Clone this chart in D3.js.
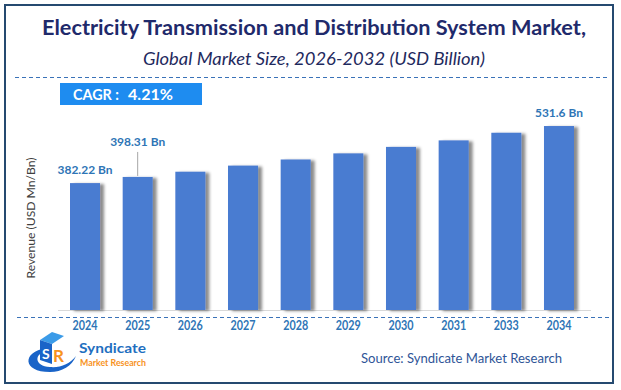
<!DOCTYPE html>
<html>
<head>
<meta charset="utf-8">
<script src="https://cdn.jsdelivr.net/npm/d3@7"></script>
<style>
  body { margin: 0; background: #fff; }
  svg text { font-family: Lato, "Open Sans", sans-serif; }
</style>
</head>
<body>
<div id="chart"></div>
<script>
// chart data
var years = ["2024", "2025", "2026", "2027", "2028", "2029", "2030", "2031", "2033", "2034"];
var revenue = [382.22, 398.31, 412, 428, 444, 460, 477, 494, 514, 531.6];
var labelled = { "2024": "382.22 Bn", "2025": "398.31 Bn", "2034": "531.6 Bn" };
var cagrText = "4.21%";

var W = 621, H = 390;

var svg = d3.select("#chart").append("svg")
    .attr("width", W)
    .attr("height", H);

// shadow for the bars
var defs = svg.append("defs");
var f = defs.append("filter").attr("id", "shadow")
    .attr("x", "-20%").attr("y", "-10%").attr("width", "160%").attr("height", "130%");
f.append("feDropShadow")
    .attr("dx", 4).attr("dy", 1)
    .attr("stdDeviation", 1.8)
    .attr("flood-color", "#000")
    .attr("flood-opacity", 0.45);

// frame
svg.append("rect")
    .attr("x", 5).attr("y", 5)
    .attr("width", 608).attr("height", 378)
    .attr("fill", "#fff")
    .attr("stroke", "#254a70")
    .attr("stroke-width", 2);

// titles
svg.append("text")
    .attr("x", 314).attr("y", 35)
    .attr("text-anchor", "middle")
    .attr("textLength", 544).attr("lengthAdjust", "spacingAndGlyphs")
    .style("font-size", "20.5px").style("font-weight", "bold")
    .style("fill", "#1f2a6b")
    .text("Electricity Transmission and Distribution System Market,");

svg.append("text")
    .attr("x", 314).attr("y", 65)
    .attr("text-anchor", "middle")
    .attr("textLength", 342).attr("lengthAdjust", "spacingAndGlyphs")
    .style("font-size", "16.5px").style("font-style", "italic")
    .style("fill", "#1f2a5e")
    .text("Global Market Size, 2026-2032 (USD Billion)");

// dashed separators
function dashed(x1, x2, y) {
    svg.append("line")
        .attr("x1", x1).attr("x2", x2)
        .attr("y1", y).attr("y2", y)
        .attr("stroke", "#3a72b8")
        .attr("stroke-width", 1)
        .attr("stroke-dasharray", "4,3");
}
dashed(15, 607, 77.5);
dashed(17, 609, 317.5);

// CAGR box
svg.append("rect")
    .attr("x", 60).attr("y", 83)
    .attr("width", 142).attr("height", 22)
    .attr("fill", "#1e8cf0");
svg.append("text")
    .attr("x", 73).attr("y", 100)
    .attr("textLength", 46).attr("lengthAdjust", "spacingAndGlyphs")
    .style("font-size", "15px").style("font-weight", "bold").style("fill", "#fff")
    .text("CAGR :");
svg.append("text")
    .attr("x", 128).attr("y", 100)
    .attr("textLength", 45).attr("lengthAdjust", "spacingAndGlyphs")
    .style("font-size", "15px").style("font-weight", "bold").style("fill", "#fff")
    .text(cagrText);

// scales
var x = d3.scaleBand()
    .domain(years)
    .range([58, 586])
    .paddingInner(0.43)
    .paddingOuter(0.228);

var y = d3.scaleLinear()
    .domain([50, 550])
    .range([310, 119]);

// baseline
svg.append("line")
    .attr("x1", 58).attr("x2", 591)
    .attr("y1", 310.5).attr("y2", 310.5)
    .attr("stroke", "#d9d9d9")
    .attr("stroke-width", 1);

// bars
svg.append("g").selectAll("rect")
    .data(years)
    .enter().append("rect")
    .attr("x", function (d) { return x(d); })
    .attr("y", function (d, i) { return y(revenue[i]); })
    .attr("width", x.bandwidth())
    .attr("height", function (d, i) { return y(50) - y(revenue[i]); })
    .attr("fill", "#4a7bd1")
    .attr("filter", "url(#shadow)");

// value labels
years.forEach(function (d, i) {
    if (!labelled[d]) return;
    var cx = x(d) + x.bandwidth() / 2;
    var ty = y(revenue[i]) - 9;
    if (d === "2025") {
        ty = y(revenue[i]) - 31;
        svg.append("line")
            .attr("x1", cx).attr("x2", cx)
            .attr("y1", ty + 6).attr("y2", y(revenue[i]) - 1)
            .attr("stroke", "#a6a6a6").attr("stroke-width", 1);
    }
    svg.append("text")
        .attr("x", cx).attr("y", ty)
        .attr("text-anchor", "middle")
        .attr("textLength", d === "2034" ? 48 : 55).attr("lengthAdjust", "spacingAndGlyphs")
        .style("font-size", "12px").style("font-weight", "bold")
        .style("fill", "#2e75b6")
        .text(labelled[d]);
});

// x axis labels
var xAxis = svg.append("g")
    .attr("transform", "translate(0,330)")
    .call(d3.axisBottom(x).tickSize(0).tickPadding(0));
xAxis.select(".domain").remove();
xAxis.selectAll("text")
    .attr("dy", 0)
    .attr("textLength", 25).attr("lengthAdjust", "spacingAndGlyphs")
    .style("font-family", "Lato, sans-serif")
    .style("font-size", "13px").style("font-weight", "bold")
    .style("fill", "#2e75b6");

// y axis title
svg.append("text")
    .attr("transform", "translate(35,218) rotate(-90)")
    .attr("text-anchor", "middle")
    .attr("textLength", 121).attr("lengthAdjust", "spacingAndGlyphs")
    .style("font-size", "12px")
    .style("fill", "#404040")
    .text("Revenue (USD Mn/Bn)");

// logo
var logo = svg.append("g");
logo.append("path")
    .attr("d", "M46,348 C22,352 22,372 50,372 C62,372 72,366 76,356 C70,364 60,368 50,367 C34,366 34,354 46,351 Z")
    .attr("fill", "#1a64c8");
logo.append("path")
    .attr("d", "M40,340 L52,332 L64,336 L52,344 Z")
    .attr("fill", "#3b9be8");
logo.append("path")
    .attr("d", "M40,340 L52,344 L52,364 L40,360 Z")
    .attr("fill", "#1a64c8");
logo.append("text")
    .attr("x", 42).attr("y", 359)
    .style("font-size", "14px").style("font-weight", "bold").style("fill", "#fff")
    .text("S");
logo.append("text")
    .attr("x", 53).attr("y", 362)
    .style("font-size", "17px").style("font-weight", "bold").style("fill", "#f7931e")
    .text("R");
logo.append("text")
    .attr("x", 79).attr("y", 353)
    .attr("textLength", 67).attr("lengthAdjust", "spacingAndGlyphs")
    .style("font-size", "14px").style("font-weight", "bold").style("fill", "#1f6fc0")
    .text("Syndicate");
logo.append("text")
    .attr("x", 80).attr("y", 366)
    .attr("textLength", 66).attr("lengthAdjust", "spacingAndGlyphs")
    .style("font-size", "9px").style("font-weight", "bold").style("fill", "#f7931e")
    .text("Market Research");

// source
svg.append("text")
    .attr("x", 361).attr("y", 363)
    .attr("textLength", 201).attr("lengthAdjust", "spacingAndGlyphs")
    .style("font-size", "14px")
    .style("fill", "#2f5597")
    .text("Source: Syndicate Market Research");
</script>
</body>
</html>
